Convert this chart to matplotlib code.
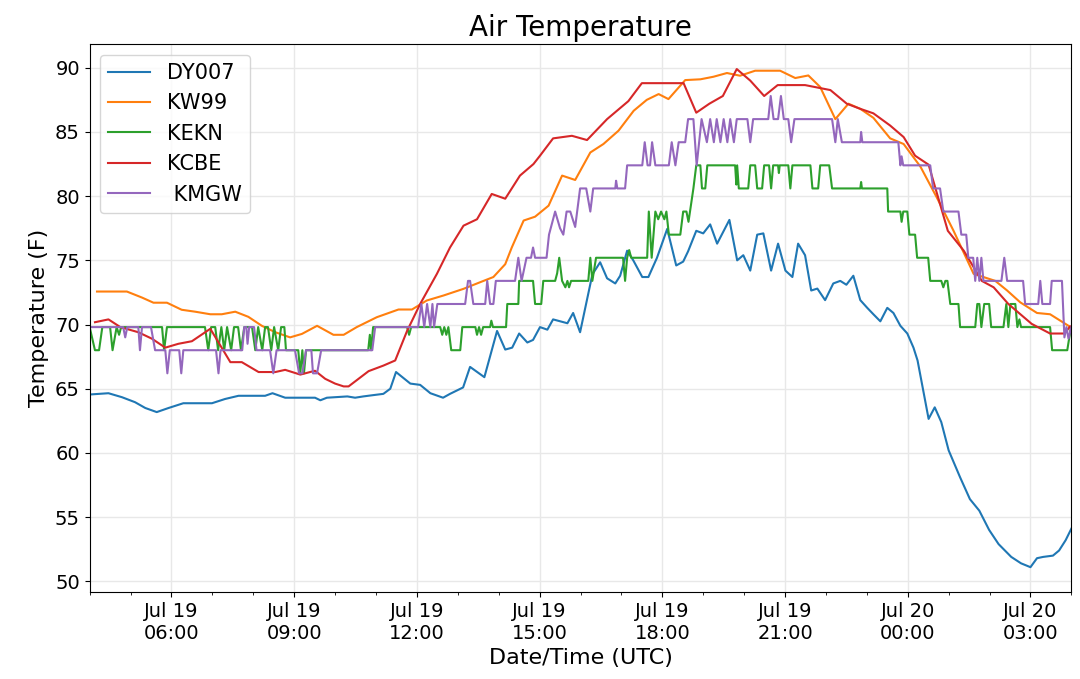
"""Air temperature at five stations, Jul 19-20 (UTC)."""

import datetime as dt

import matplotlib
matplotlib.use("Agg")
import matplotlib.pyplot as plt
import matplotlib.dates as mdates

START = dt.datetime(2019, 7, 19, 4, 0)
END = START + dt.timedelta(hours=24)

# ── Data: hours after START, temperature (F) ─────────────────────────────
dy007_hours = [
    0.00, 0.46, 0.79, 1.11, 1.36, 1.64, 1.93, 2.29, 2.99, 3.31, 3.64, 4.29,
    4.47, 4.78, 5.51, 5.64, 5.80, 6.30, 6.49, 6.69, 6.93, 7.18, 7.35, 7.49,
    7.84, 8.08, 8.33, 8.64, 8.81, 9.13, 9.30, 9.65, 9.96, 10.16, 10.33, 10.50,
    10.70, 10.84, 11.01, 11.19, 11.33, 11.68, 11.82, 11.99, 12.29, 12.48,
    12.65, 12.85, 12.97, 13.14, 13.29, 13.51, 13.66, 13.87, 14.12, 14.34,
    14.51, 14.63, 14.83, 15.00, 15.17, 15.34, 15.64, 15.83, 15.98, 16.15,
    16.32, 16.47, 16.66, 16.83, 17.01, 17.18, 17.32, 17.49, 17.64, 17.79,
    17.98, 18.18, 18.35, 18.50, 18.67, 18.84, 19.01, 19.16, 19.33, 19.50,
    19.65, 19.82, 19.99, 20.14, 20.24, 20.51, 20.66, 20.82, 21.00, 21.28,
    21.52, 21.75, 21.99, 22.22, 22.53, 22.77, 23.00, 23.16, 23.31, 23.55,
    23.70, 23.86, 24.00,
]
dy007_temp = [
    64.55, 64.65, 64.34, 63.95, 63.5, 63.18, 63.5, 63.87, 63.87, 64.2, 64.45,
    64.45, 64.65, 64.3, 64.3, 64.1, 64.3, 64.4, 64.3, 64.4, 64.5, 64.6, 65.0,
    66.3, 65.4, 65.3, 64.65, 64.3, 64.6, 65.1, 66.7, 65.9, 69.5, 68.05, 68.2,
    69.3, 68.6, 68.8, 69.8, 69.6, 70.4, 70.1, 70.9, 69.4, 73.9, 74.85, 73.6,
    73.2, 73.8, 75.75, 75.0, 73.7, 73.7, 75.2, 77.45, 74.6, 74.9, 75.7, 77.3,
    77.1, 77.8, 76.3, 78.15, 75.0, 75.4, 74.2, 77.0, 77.1, 74.2, 76.3, 74.2,
    73.7, 76.3, 75.4, 72.65, 72.8, 71.9, 73.2, 73.4, 73.1, 73.8, 71.9, 71.3,
    70.8, 70.25, 71.3, 70.9, 69.9, 69.3, 68.2, 67.2, 62.65, 63.55, 62.4, 60.2,
    58.1, 56.4, 55.5, 54.0, 52.9, 51.9, 51.4, 51.1, 51.8, 51.9, 52.0, 52.4,
    53.2, 54.1,
]

kw99_hours = [
    0.18, 0.91, 1.28, 1.56, 1.89, 2.25, 2.58, 2.95, 3.23, 3.56, 3.88, 4.21,
    4.54, 4.90, 5.19, 5.56, 5.96, 6.21, 6.53, 7.02, 7.55, 7.88, 8.24, 8.65,
    9.14, 9.55, 9.87, 10.16, 10.32, 10.61, 10.89, 11.22, 11.55, 11.87, 12.24,
    12.56, 12.93, 13.30, 13.62, 13.91, 14.15, 14.56, 14.93, 15.25, 15.58,
    15.90, 16.27, 16.88, 17.25, 17.57, 17.86, 18.23, 18.55, 18.84, 19.16,
    19.57, 19.90, 20.31, 20.71, 21.12, 21.61, 22.14, 22.43, 22.75, 23.16,
    23.48, 23.93,
]
kw99_temp = [
    72.57, 72.57, 72.1, 71.7, 71.7, 71.15, 71.0, 70.8, 70.8, 71.0, 70.6, 69.9,
    69.4, 69.0, 69.27, 69.9, 69.2, 69.2, 69.8, 70.57, 71.17, 71.17, 71.87,
    72.26, 72.78, 73.3, 73.7, 74.7, 76.0, 78.1, 78.4, 79.26, 81.6, 81.26,
    83.4, 84.06, 85.1, 86.65, 87.5, 87.95, 87.56, 89.04, 89.1, 89.3, 89.59,
    89.38, 89.77, 89.77, 89.2, 89.4, 88.5, 86.0, 87.2, 86.8, 86.1, 84.5,
    84.06, 82.3, 79.9, 77.3, 73.95, 73.4, 72.65, 71.73, 70.9, 70.8, 69.9,
]

kekn_hours = [
    0.00, 0.13, 0.23, 0.31, 0.50, 0.56, 0.66, 0.72, 0.77, 1.77, 1.82, 1.89,
    2.82, 2.90, 2.97, 3.07, 3.14, 3.22, 3.29, 3.36, 3.46, 3.53, 3.63, 3.70,
    3.78, 3.97, 4.05, 4.12, 4.22, 4.29, 4.36, 4.44, 4.51, 4.61, 4.68, 4.76,
    4.80, 5.10, 5.15, 5.20, 5.24, 5.29, 6.81, 6.85, 6.88, 6.93, 7.76, 7.81,
    7.86, 8.57, 8.62, 8.67, 8.72, 8.77, 8.84, 9.06, 9.11, 9.43, 9.47, 9.52,
    9.57, 9.62, 9.79, 9.82, 9.86, 10.18, 10.21, 10.48, 10.50, 10.84, 10.89,
    11.04, 11.09, 11.38, 11.43, 11.48, 11.55, 11.63, 11.68, 11.72, 11.77,
    12.19, 12.24, 12.29, 12.38, 13.04, 13.09, 13.14, 13.19, 13.24, 13.63,
    13.67, 13.74, 13.83, 13.90, 13.97, 14.05, 14.10, 14.16, 14.44, 14.51,
    14.59, 14.64, 14.76, 14.83, 14.93, 14.97, 15.05, 15.10, 15.78, 15.81,
    15.83, 15.87, 16.10, 16.15, 16.27, 16.32, 16.44, 16.49, 16.61, 16.66,
    16.71, 16.83, 16.85, 16.87, 17.08, 17.13, 17.18, 17.62, 17.67, 17.81,
    17.86, 18.08, 18.15, 18.84, 18.86, 18.88, 19.50, 19.52, 19.82, 19.85,
    19.89, 19.99, 20.04, 20.18, 20.23, 20.50, 20.55, 20.82, 20.87, 20.92,
    20.97, 21.04, 21.24, 21.28, 21.65, 21.70, 21.75, 21.80, 21.87, 21.99,
    22.04, 22.34, 22.41, 22.46, 22.51, 22.63, 22.68, 22.73, 22.77, 23.48,
    23.53, 23.90, 23.99,
]
kekn_temp = [
    69.8, 68.0, 68.0, 69.8, 69.8, 68.0, 69.8, 69.2, 69.8, 69.8, 68.0, 69.8,
    69.8, 68.0, 69.8, 69.8, 68.0, 69.8, 68.0, 69.8, 68.0, 69.8, 69.8, 68.0,
    69.8, 69.8, 68.0, 69.8, 68.0, 69.8, 69.8, 68.0, 69.8, 68.0, 69.8, 69.8,
    68.0, 68.0, 66.2, 68.0, 66.2, 68.0, 68.0, 69.2, 68.0, 69.8, 69.8, 69.2,
    69.8, 69.8, 69.2, 69.8, 69.2, 69.8, 68.0, 68.0, 69.8, 69.8, 69.2, 69.8,
    69.2, 69.8, 69.8, 70.3, 69.8, 69.8, 71.6, 71.6, 73.4, 73.4, 71.6,
    71.6, 73.4, 73.4, 74.0, 75.2, 73.4, 72.9, 73.4, 72.9, 73.4,
    73.4, 75.2, 73.4, 75.2, 75.2, 73.4, 75.2, 75.8, 75.2, 75.2,
    78.8, 75.2, 78.8, 78.2, 78.8, 78.2, 78.8, 77.0, 77.0, 78.8,
    78.8, 78.0, 80.6, 82.4, 82.4, 80.6, 80.6, 82.4, 82.4, 80.9,
    82.4, 80.6, 80.6, 82.4, 82.4, 80.6, 80.6, 82.4, 82.4, 80.6,
    82.4, 82.4, 81.8, 82.4, 82.4, 80.6, 82.4, 82.4, 80.6, 80.6,
    82.4, 82.4, 80.6, 80.6, 81.1, 80.6, 80.6, 78.8, 78.8, 78.0,
    78.8, 78.8, 77.0, 77.0, 75.2, 75.2, 73.4, 73.4, 72.9, 73.4,
    73.4, 71.6, 71.6, 69.8, 69.8, 71.6, 71.6, 69.8, 71.6, 71.6,
    69.8, 69.8, 71.6, 69.8, 71.6, 71.6, 69.8, 70.4, 69.8, 69.8,
    68.0, 68.0, 69.8,
]

kcbe_hours = [
    0.13, 0.46, 0.75, 1.19, 1.52, 1.85, 2.17, 2.50, 2.95, 3.44, 3.72, 4.13,
    4.54, 4.78, 5.15, 5.51, 5.76, 6.00, 6.21, 6.33, 6.82, 7.18, 7.47, 7.76,
    8.08, 8.49, 8.81, 9.14, 9.47, 9.83, 10.16, 10.52, 10.85, 11.01, 11.33,
    11.79, 12.16, 12.65, 13.17, 13.50, 14.52, 14.83, 15.15, 15.48, 15.82,
    16.15, 16.49, 16.82, 17.49, 18.11, 18.51, 18.84, 19.16, 19.57, 19.90,
    20.18, 20.51, 20.98, 21.37, 21.81, 22.10, 22.46, 23.03, 23.48, 23.83,
    23.97,
]
kcbe_temp = [
    70.18, 70.4, 69.8, 69.4, 68.9, 68.2, 68.5, 68.7, 69.67, 67.07, 67.07,
    66.3, 66.3, 66.47, 66.1, 66.4, 65.77, 65.4, 65.18, 65.18, 66.37, 66.8,
    67.2, 69.5, 71.6, 73.95, 76.0, 77.7, 78.2, 80.17, 79.8, 81.6, 82.5, 83.15,
    84.5, 84.7, 84.37, 86.0, 87.4, 88.8, 88.8, 86.5, 87.2, 87.8, 89.9, 89.0,
    87.8, 88.65, 88.65, 88.26, 87.2, 86.8, 86.45, 85.5, 84.6, 83.15, 82.45,
    77.3, 75.75, 73.4, 72.9, 71.6, 70.05, 69.3, 69.3, 69.85,
]

kmgw_hours = [
    0.04, 0.82, 0.87, 0.92, 1.19, 1.23, 1.28, 1.50, 1.60, 1.85, 1.90, 1.96,
    2.19, 2.24, 2.29, 3.09, 3.15, 3.20, 3.73, 3.78, 3.83, 3.86, 3.90, 4.02,
    4.08, 4.41, 4.49, 4.57, 5.02, 5.12, 5.20, 5.29, 5.42, 5.46, 5.56, 5.66,
    6.91, 6.98, 8.03, 8.11, 8.18, 8.25, 8.33, 8.38, 8.42, 8.50, 9.18, 9.25,
    9.30, 9.38, 9.67, 9.72, 9.79, 9.87, 9.93, 10.40, 10.48, 10.56, 10.68,
    10.79, 10.84, 10.89, 11.17, 11.23, 11.38, 11.50, 11.58, 11.66, 11.75,
    11.87, 11.99, 12.14, 12.24, 12.31, 12.85, 12.87, 12.90, 13.09, 13.14,
    13.51, 13.57, 13.64, 13.70, 13.75, 13.83, 14.16, 14.23, 14.32, 14.40,
    14.56, 14.63, 14.76, 14.84, 14.96, 15.09, 15.17, 15.26, 15.33, 15.42,
    15.50, 15.59, 15.66, 15.75, 15.82, 16.08, 16.15, 16.22, 16.59, 16.65,
    16.72, 16.83, 16.90, 16.97, 17.08, 17.15, 17.23, 18.15, 18.23, 18.29,
    18.39, 18.84, 18.86, 18.89, 19.77, 19.82, 19.85, 19.89, 20.55, 20.62,
    20.79, 20.87, 21.24, 21.31, 21.43, 21.48, 21.60, 21.65, 21.70, 21.75,
    21.80, 21.85, 22.29, 22.36, 22.43, 22.82, 22.87, 23.19, 23.24, 23.29,
    23.48, 23.52, 23.77, 23.83, 23.88, 23.93, 24.00,
]
kmgw_temp = [
    69.8, 69.8, 69.0, 69.8, 69.8, 68.0, 69.8, 69.8, 68.0, 68.0, 66.2, 68.0,
    68.0, 66.2, 68.0, 68.0, 66.2, 68.0, 68.0, 69.8, 69.8, 68.5, 69.8, 69.8,
    68.0, 68.0, 66.2, 68.0, 68.0, 66.2, 66.2, 68.0, 68.0, 66.2, 66.2, 68.0,
    68.0, 69.8, 69.8, 71.6, 69.8, 71.6, 69.8, 71.6, 69.8, 71.6, 71.6, 73.4,
    73.4, 71.6, 71.6, 73.4, 71.6, 71.6, 73.4, 73.4, 75.2, 73.4, 75.2,
    75.2, 76.0, 75.2, 75.2, 77.0, 78.8, 77.5, 77.0, 78.8, 78.8,
    77.6, 80.6, 80.6, 78.8, 80.6, 80.6, 81.2, 80.6, 80.6, 82.4,
    82.4, 84.2, 82.4, 82.4, 84.2, 82.4, 82.4, 84.2, 82.4, 84.2,
    84.2, 86.0, 86.0, 82.4, 86.0, 84.2, 86.0, 84.2, 86.0, 84.2,
    86.0, 84.2, 86.0, 84.2, 86.0, 86.0, 84.2, 86.0, 86.0, 87.8,
    86.0, 86.0, 87.8, 86.0, 86.0, 84.2, 86.0, 86.0, 84.2, 86.0,
    84.2, 84.2, 85.0, 84.2, 84.2, 82.4, 83.1, 82.4, 82.4, 80.6,
    80.6, 78.8, 78.8, 77.0, 77.0, 75.2, 75.2, 73.4, 75.2, 73.4,
    75.2, 73.4, 73.4, 75.2, 73.4, 73.4, 71.6, 71.6, 73.4, 71.6,
    71.6, 73.4, 73.4, 69.0, 69.8, 68.9, 69.8,
]

STATIONS = [
    ("DY007", dy007_hours, dy007_temp),
    ("KW99", kw99_hours, kw99_temp),
    ("KEKN", kekn_hours, kekn_temp),
    ("KCBE", kcbe_hours, kcbe_temp),
    (" KMGW", kmgw_hours, kmgw_temp),
]


def to_times(hours):
    return [START + dt.timedelta(hours=h) for h in hours]


fig = plt.figure(figsize=(10.8, 6.79), dpi=100)
ax = fig.add_axes([0.083, 0.128, 0.909, 0.807])

for label, hours, temps in STATIONS:
    ax.plot(to_times(hours), temps, label=label, linewidth=1.5)

ax.set_xlim(START, END)
ax.xaxis.set_major_locator(mdates.HourLocator(byhour=range(0, 24, 3)))
ax.xaxis.set_minor_locator(mdates.HourLocator())
ax.xaxis.set_major_formatter(mdates.DateFormatter("%b %d\n%H:%M"))

ax.grid(True, color="#e8e8e8", linewidth=1.0)
ax.set_axisbelow(True)
ax.tick_params(labelsize=14)
ax.set_xlabel("Date/Time (UTC)", fontsize=16)
ax.set_ylabel("Temperature (F)", fontsize=16)
ax.set_title("Air Temperature", fontsize=20)
ax.legend(loc="upper left", fontsize=15, labelspacing=0.5)

fig.savefig("out.png", dpi=100)
